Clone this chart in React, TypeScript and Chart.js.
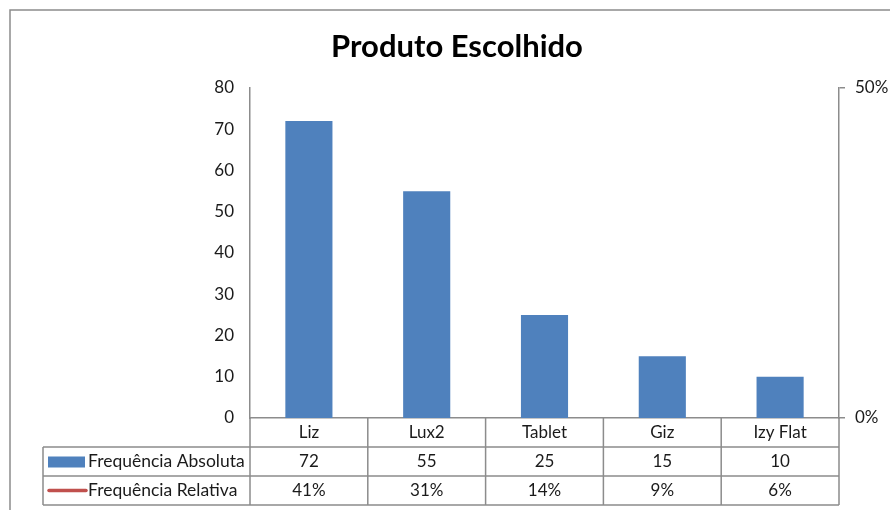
import React, { useEffect, useRef } from "react";
import { Chart, registerables } from "chart.js";

Chart.register(...registerables);

const title = "Produto Escolhido";
const categories = ["Liz", "Lux2", "Tablet", "Giz", "Izy Flat"];
const absoluteValues = [72, 55, 25, 15, 10];
const relativeValues = [0.41, 0.31, 0.14, 0.09, 0.06];
const absoluteLabel = "Frequência Absoluta";
const relativeLabel = "Frequência Relativa";
const leftTicks = { min: 0, max: 80, step: 10 };
const rightTicks = { min: 0, max: 0.5, step: 0.5 };

const FONT = "Lato, 'Open Sans', sans-serif";
const BLUE = "#4F81BD";
const RED = "#C0504D";
const GRAY = "#8c8c8c";
const TEXT = "#1a1a1a";

const tablePlugin = {
  id: "tablePlugin",
  afterDraw(chart: any) {
    const ctx = chart.ctx;
    const area = chart.chartArea;
    const left = area.left;
    const right = area.right;
    const top = area.bottom;
    const rowH = 29;
    const colW = (right - left) / categories.length;
    const legendLeft = 43;
    ctx.save();
    // outer frame
    ctx.strokeStyle = GRAY;
    ctx.lineWidth = 1.5;
    ctx.beginPath();
    ctx.moveTo(10, 520);
    ctx.lineTo(10, 10);
    ctx.lineTo(900, 10);
    ctx.stroke();

    // title
    ctx.fillStyle = "#000";
    ctx.font = `bold 31px ${FONT}`;
    ctx.textAlign = "center";
    ctx.textBaseline = "middle";
    ctx.fillText(title, 457, 47);

    // table grid
    ctx.strokeStyle = GRAY;
    ctx.lineWidth = 1.5;
    ctx.beginPath();
    for (let r = 1; r <= 3; r++) {
      const y = top + r * rowH;
      ctx.moveTo(legendLeft, y);
      ctx.lineTo(right, y);
    }
    ctx.moveTo(legendLeft, top + rowH);
    ctx.lineTo(legendLeft, top + 3 * rowH);
    for (let c = 0; c <= categories.length; c++) {
      const x = left + c * colW;
      ctx.moveTo(x, top);
      ctx.lineTo(x, top + 3 * rowH);
    }
    ctx.stroke();

    // texts
    ctx.fillStyle = TEXT;
    ctx.font = `17px ${FONT}`;
    ctx.textAlign = "center";
    ctx.textBaseline = "middle";
    categories.forEach((cat, i) => {
      const cx = chart.scales.x.getPixelForValue(i);
      ctx.fillText(cat, cx, top + rowH * 0.5);
      ctx.fillText(String(absoluteValues[i]), cx, top + rowH * 1.5);
      ctx.fillText(Math.round(relativeValues[i] * 100) + "%", cx, top + rowH * 2.5);
    });

    // legend keys
    ctx.fillStyle = BLUE;
    ctx.fillRect(48, top + rowH * 1.5 - 5, 37, 11);
    ctx.strokeStyle = RED;
    ctx.lineWidth = 3.5;
    ctx.lineCap = "round";
    ctx.beginPath();
    ctx.moveTo(49, top + rowH * 2.5);
    ctx.lineTo(86, top + rowH * 2.5);
    ctx.stroke();
    ctx.fillStyle = TEXT;
    ctx.textAlign = "left";
    ctx.font = `17.5px ${FONT}`;
    ctx.fillText(absoluteLabel, 88, top + rowH * 1.5);
    ctx.fillText(relativeLabel, 88, top + rowH * 2.5);
    ctx.restore();
  },
};

export default function App() {
  const ref = useRef<HTMLCanvasElement>(null);
  useEffect(() => {
    if (!ref.current) return;
    const chart = new Chart(ref.current, {
      type: "bar",
      data: {
        labels: categories,
        datasets: [
          {
            type: "bar",
            label: absoluteLabel,
            data: absoluteValues,
            backgroundColor: BLUE,
            borderWidth: 0,
            yAxisID: "y",
            barPercentage: 0.4,
            categoryPercentage: 1,
          } as any,
          {
            type: "line",
            label: relativeLabel,
            data: relativeValues,
            borderColor: RED,
            backgroundColor: RED,
            yAxisID: "y1",
            hidden: true,
          } as any,
        ],
      },
      options: {
        responsive: false,
        animation: false,
        layout: { padding: { top: 88, bottom: 92, left: 0, right: 0 } },
        plugins: { legend: { display: false }, title: { display: false }, tooltip: { enabled: false } },
        scales: {
          x: {
            display: true,
            grid: { display: false, drawTicks: false },
            border: { display: true, color: GRAY, width: 1.5 },
            ticks: { display: false },
          },
          y: {
            position: "left",
            min: leftTicks.min,
            max: leftTicks.max,
            ticks: {
              stepSize: leftTicks.step,
              color: TEXT,
              font: { family: FONT, size: 17 },
              padding: 16,
            },
            grid: { display: false, drawTicks: false },
            border: { display: true, color: GRAY, width: 1.5 },
            afterFit: (s: any) => {
              s.width = 250;
            },
          },
          y1: {
            position: "right",
            min: rightTicks.min,
            max: rightTicks.max,
            ticks: {
              stepSize: rightTicks.step,
              color: TEXT,
              font: { family: FONT, size: 17 },
              padding: 10,
              callback: (v: any) => Math.round(Number(v) * 100) + "%",
            },
            grid: { display: true, drawOnChartArea: false, drawTicks: true, tickLength: 6, color: GRAY, lineWidth: 1.5 },
            border: { display: true, color: GRAY, width: 1.5 },
            afterFit: (s: any) => {
              s.width = 51;
            },
          },
        },
      } as any,
      plugins: [tablePlugin],
    });
    return () => chart.destroy();
  }, []);
  return (
    <div style={{ position: "fixed", left: 0, top: 0, width: 890, height: 510, background: "#fff" }}>
      <canvas ref={ref} width={890} height={510} style={{ width: 890, height: 510 }} />
    </div>
  );
}
